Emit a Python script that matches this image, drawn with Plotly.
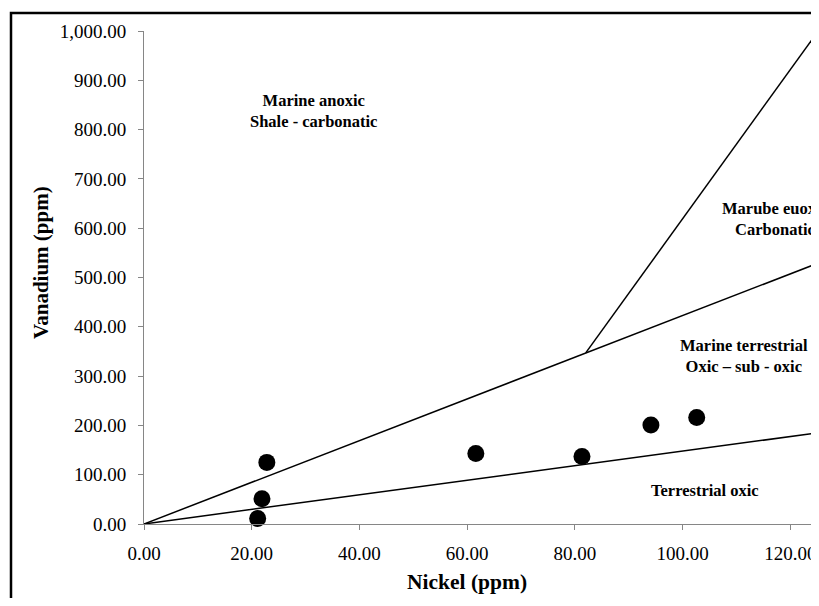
import plotly.graph_objects as go

# Data points (Nickel ppm, Vanadium ppm)
nickel = [22.8, 21.9, 21.1, 61.6, 81.3, 94.1, 102.6]
vanadium = [125, 51, 11, 143, 137, 201, 216]

# Boundary lines (field limits)
upper_x = [0, 140]
upper_y = [0, 592]
lower_x = [0, 140]
lower_y = [0, 207]
steep_x = [82, 127]
steep_y = [347, 1028]

# Region labels
region_text = ["Marine anoxic<br>Shale - carbonatic",
               "Marube euoxic<br>Carbonatic",
               "Marine terrestrial<br>Oxic \u2013 sub - oxic",
               "Terrestrial oxic"]
region_x = [31.4, 117.1, 111.4, 104.2]
region_y = [838, 618, 341, 67]

x_ticks = [0, 20, 40, 60, 80, 100, 120]
y_ticks = [0, 100, 200, 300, 400, 500, 600, 700, 800, 900, 1000]

FONT = "Liberation Serif, Times New Roman, serif"

fig = go.Figure()
for lx, ly in [(upper_x, upper_y), (lower_x, lower_y), (steep_x, steep_y)]:
    fig.add_trace(go.Scatter(x=lx, y=ly, mode="lines",
                             line=dict(color="black", width=1.5),
                             showlegend=False, hoverinfo="skip"))
fig.add_trace(go.Scatter(x=nickel, y=vanadium, mode="markers",
                         marker=dict(color="black", size=17),
                         showlegend=False, cliponaxis=False))

for t, x, y in zip(region_text, region_x, region_y):
    fig.add_annotation(x=x, y=y, xref="x", yref="y", text="<b>" + t + "</b>",
                       showarrow=False, align="center",
                       xanchor="center", yanchor="middle",
                       font=dict(family=FONT, size=16.5, color="black"))

# axis titles
fig.add_annotation(x=(467 - 144) / 675, y=(524 - 582) / 493, xref="paper", yref="paper",
                   text="<b>Nickel (ppm)</b>", showarrow=False,
                   xanchor="center", yanchor="middle",
                   font=dict(family=FONT, size=21.5, color="black"))
fig.add_annotation(x=(41 - 144) / 675, y=(524 - 263) / 493, xref="paper", yref="paper",
                   text="<b>Vanadium (ppm)</b>", showarrow=False, textangle=-90,
                   xanchor="center", yanchor="middle",
                   font=dict(family=FONT, size=21, color="black"))

# outer frame
fig.add_shape(type="rect", xref="paper", yref="paper",
              x0=(11 - 144) / 675, x1=1.2, y0=-0.3, y1=(524 - 13) / 493,
              line=dict(color="black", width=2.5), fillcolor="rgba(0,0,0,0)")

fig.update_xaxes(range=[0, 125.3], tickvals=x_ticks, tickformat=",.2f",
                 automargin=False,
                 showgrid=False, zeroline=False, showline=True, linecolor="#868686",
                 linewidth=1, ticks="outside", ticklen=5, tickcolor="#868686",
                 ticklabelstandoff=7,
                 tickfont=dict(family=FONT, size=19, color="black"))
fig.update_yaxes(range=[0, 1000], tickvals=y_ticks, tickformat=",.2f",
                 automargin=False,
                 showgrid=False, zeroline=False, showline=True, linecolor="#868686",
                 linewidth=1, ticks="outside", ticklen=5, tickcolor="#868686",
                 ticklabelstandoff=8,
                 tickfont=dict(family=FONT, size=19, color="black"))

fig.update_layout(width=811, height=590,
                  margin=dict(l=136, r=0, t=23, b=74),
                  plot_bgcolor="white", paper_bgcolor="white",
                  showlegend=False)

fig.write_html("out.html")
